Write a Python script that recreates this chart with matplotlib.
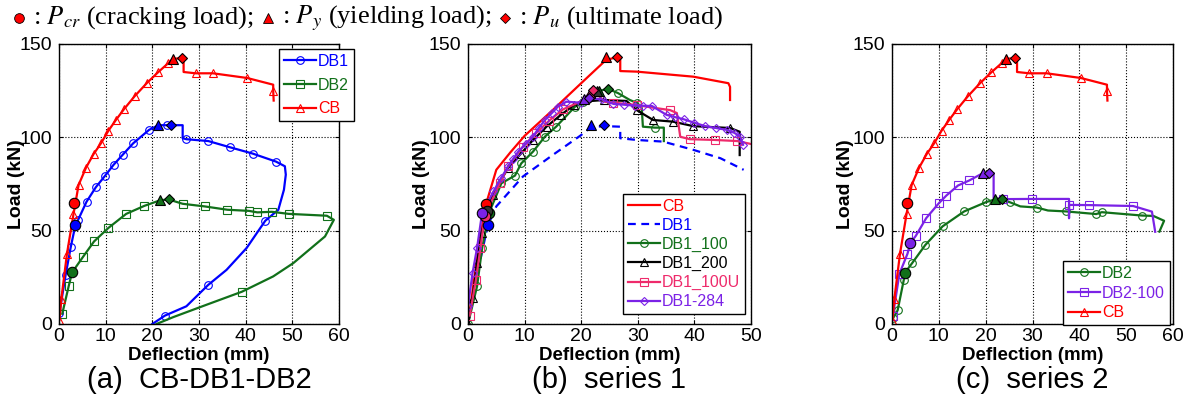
import matplotlib
matplotlib.use("Agg")
import matplotlib.pyplot as plt
from matplotlib.lines import Line2D

plt.rcParams['font.family'] = ['Liberation Sans', 'DejaVu Sans']
plt.rcParams['mathtext.fontset'] = 'stix'

RED = '#ff0000'
BLUE = '#0000ff'
GREEN = '#11701a'
BLACK = '#000000'
PINK = '#ee2a6b'
PURPLE = '#7b22e6'

# ---- panel (a) CB-DB1-DB2 ----
cb_x = [0.1, 0.5, 1.7, 3.1, 4.2, 5.8, 7.4, 9.0, 10.6, 12.2, 13.9, 16.2, 18.8, 21.2, 23.4,
        24.4, 26.3, 26.7, 26.7, 29.3, 33.0, 40.3, 45.9, 45.9, 46.0]
cb_y = [2.3, 13.4, 37.5, 58.8, 74.5, 83.8, 91.0, 96.8, 103.6, 109.3, 115.0, 122.0, 129.0, 134.8, 139.7,
        142.0, 142.5, 142.5, 135.0, 134.3, 134.3, 131.8, 128.2, 125.0, 119.7]
cb_mk = [0, 1, 2, 3, 4, 5, 6, 7, 8, 9, 10, 11, 12, 13, 14, 19, 20, 21, 23]
cb_pts = {'cr': (3.2, 65.0), 'y': (24.4, 142.0), 'u': (26.3, 142.5)}

db1_x = [0.1, 1.4, 2.5, 3.5, 4.1, 5.9, 7.9, 9.9, 11.7, 13.7, 15.9, 19.3, 21.3, 23.2, 26.5, 26.5,
         27.3, 32.0, 36.6, 41.5, 46.5, 48.4, 48.6, 48.2, 47.0, 44.2, 40.2, 35.9, 32.0, 27.3, 22.7, 20.0]
db1_y = [6.0, 26.0, 41.0, 52.8, 55.8, 65.5, 73.3, 79.5, 85.3, 90.8, 96.8, 104.0, 106.5, 106.5, 106.5, 99.5,
         99.0, 98.0, 94.7, 91.3, 87.0, 84.5, 80.0, 71.9, 61.2, 55.3, 40.7, 29.0, 21.0, 9.5, 4.5, 0.0]
db1_mk = [0, 1, 2, 4, 5, 6, 7, 8, 9, 10, 11, 13, 16, 17, 18, 19, 20, 25, 28, 30]
db1_pts = {'cr': (3.5, 52.8), 'y': (21.3, 106.5), 'u': (24.0, 106.5)}

db2_x = [0.7, 2.1, 2.8, 5.1, 7.5, 10.6, 14.4, 18.3, 21.7, 23.5, 26.5, 31.2, 36.1, 40.7, 42.5, 45.6,
         49.2, 57.4, 58.9, 57.0, 50.2, 45.9, 39.2, 31.6, 24.5, 20.9]
db2_y = [5.5, 20.5, 27.6, 35.8, 44.2, 51.5, 59.0, 63.3, 66.3, 66.7, 64.4, 63.0, 61.2, 60.6, 59.8, 60.1,
         59.0, 58.0, 55.8, 46.9, 32.6, 25.5, 17.3, 10.3, 3.7, 0.0]
db2_mk = [0, 1, 3, 4, 5, 6, 7, 10, 11, 12, 13, 14, 15, 16, 17, 22]
db2_pts = {'cr': (2.8, 27.6), 'y': (21.7, 66.3), 'u': (23.5, 66.7)}

# ---- panel (b) series 1 ----
b_cb_x = [0, 1.0, 2.0, 3.2, 5.0, 7.5, 10.0, 15.0, 20.0, 24.4, 26.3, 26.9, 26.9, 29.8, 39.8, 46.0, 46.3, 46.3]
b_cb_y = [0, 22.0, 44.0, 64.4, 82.6, 92.0, 100.8, 114.7, 129.0, 141.5, 142.9, 142.9, 135.5, 135.2, 132.5,
          129.0, 127.0, 120.0]
b_cb_pts = {'cr': (3.2, 64.4), 'y': (24.4, 143.0), 'u': (26.3, 142.9)}

b_db1_x = [0, 1.5, 3.5, 5.0, 9.7, 15.0, 19.8, 21.8, 24.2, 26.9, 26.9, 29.8, 34.5, 39.8, 44.6, 48.7]
b_db1_y = [0, 25.0, 52.8, 63.0, 79.0, 90.6, 100.8, 105.5, 106.0, 105.7, 99.5, 98.6, 97.7, 93.3, 88.8, 82.6]
b_db1_pts = {'cr': (3.5, 52.8), 'y': (21.8, 106.5), 'u': (24.0, 106.6)}

b_100_x = [0, 1.6, 2.5, 3.7, 5.9, 8.3, 9.4, 11.5, 13.6, 15.6, 18.9, 20.4, 23.1, 24.7, 26.5, 28.6, 29.9,
           30.7, 30.9, 33.0, 34.6, 34.6]
b_100_y = [0, 20.2, 40.7, 59.4, 75.4, 79.5, 86.0, 92.4, 100.4, 105.8, 116.4, 119.0, 124.8, 126.0, 123.7,
           120.0, 118.4, 115.7, 105.7, 105.2, 105.2, 98.0]
b_100_mk = [0, 1, 2, 4, 5, 6, 7, 8, 9, 10, 11, 14, 16, 19]
b_100_pts = {'cr': (3.7, 59.4), 'y': (23.1, 125.0), 'u': (24.7, 126.0)}

b_200_x = [0, 0.8, 1.6, 2.4, 3.4, 4.4, 7.1, 9.3, 11.5, 13.9, 16.4, 18.8, 19.8, 24.0, 28.0, 29.8, 32.7,
           36.2, 39.8, 46.3, 48.0, 48.0]
b_200_y = [0, 13.9, 32.6, 49.0, 60.3, 69.2, 83.8, 91.1, 98.6, 105.8, 112.0, 117.4, 119.0, 120.0, 119.5,
           114.6, 109.3, 108.4, 106.0, 105.0, 103.0, 90.5]
b_200_mk = [0, 1, 2, 3, 5, 6, 7, 8, 9, 10, 11, 13, 15, 16, 17, 18, 19]
b_200_pts = {'cr': (3.4, 60.3), 'y': (22.8, 124.8), 'u': (21.6, 121.5)}

b_100u_x = [0.3, 1.4, 2.2, 2.95, 5.6, 7.1, 9.7, 12.1, 14.3, 16.8, 20.5, 21.5, 22.0, 24.2, 25.7, 29.8,
            32.2, 35.7, 36.9, 37.5, 39.2, 43.6, 47.6, 49.9]
b_100u_y = [4.5, 23.7, 40.7, 57.6, 75.4, 84.4, 95.0, 102.5, 108.8, 115.0, 120.0, 124.0, 125.4, 119.0,
            118.6, 117.3, 116.1, 114.6, 113.0, 100.3, 99.0, 98.6, 98.0, 96.5]
b_100u_mk = [0, 1, 2, 4, 5, 6, 7, 8, 9, 14, 15, 17, 20, 21, 22]
b_100u_pts = {'cr': (2.95, 57.6), 'y': (21.5, 124.0), 'u': (22.1, 125.4)}

b_284_x = [0, 0.8, 1.6, 2.5, 4.5, 5.8, 7.1, 8.0, 8.9, 10.2, 11.5, 12.5, 13.6, 14.8, 15.9, 17.4, 20.0,
           21.1, 23.6, 25.7, 27.5, 29.5, 31.0, 32.5, 35.1, 36.6, 38.1, 40.0, 41.9, 43.8, 45.7, 47.0,
           48.1, 48.6]
b_284_y = [9.5, 27.3, 40.7, 59.7, 71.0, 78.0, 84.4, 88.5, 92.4, 96.5, 100.4, 105.0, 109.3, 113.0, 116.5,
           119.1, 118.5, 121.0, 120.4, 117.9, 117.5, 117.0, 116.9, 116.8, 112.0, 110.8, 109.7, 107.8,
           106.0, 105.0, 104.0, 102.5, 100.4, 96.0]
b_284_pts = {'cr': (2.5, 59.7), 'y': (20.5, 120.5), 'u': (21.3, 121.0)}

# ---- panel (c) series 2 ----
c_db2_x = [0.2, 1.2, 2.5, 2.7, 4.3, 7.1, 10.8, 15.4, 20.1, 21.9, 23.5, 25.3, 27.4, 30.9, 33.3, 37.2,
           43.6, 44.8, 53.4, 55.8, 58.1, 57.1]
c_db2_y = [3.0, 7.3, 23.4, 27.3, 32.6, 42.3, 52.3, 60.3, 65.3, 66.7, 66.7, 65.1, 63.0, 62.4, 60.8, 60.3,
           58.9, 59.9, 58.1, 57.9, 55.3, 49.5]
c_db2_mk = [0, 1, 2, 4, 5, 6, 7, 8, 11, 13, 15, 16, 17, 18]
c_db2_pts = {'cr': (2.7, 27.3), 'y': (21.9, 66.7), 'u': (23.5, 66.7)}

c_100_x = [0.2, 1.57, 3.3, 3.9, 5.1, 7.3, 10.0, 11.6, 14.1, 16.5, 19.4, 20.8, 21.7, 21.7, 23.7, 29.9,
           37.8, 37.8, 37.8, 42.1, 51.5, 55.5, 56.2]
c_100_y = [4.5, 26.8, 37.6, 43.2, 47.3, 56.7, 64.7, 68.8, 74.2, 76.9, 80.8, 80.8, 80.8, 67.4, 66.9, 67.0,
           67.0, 56.7, 63.8, 63.7, 63.2, 60.2, 49.4]
c_100_mk = [0, 1, 2, 4, 5, 6, 7, 8, 9, 14, 15, 18, 19, 20]
c_100_pts = {'cr': (3.9, 43.2), 'y': (19.4, 80.8), 'u': (20.8, 80.8)}

header_parts = [r": $P_{cr}$ (cracking load);", r": $P_y$ (yielding load);", r": $P_u$ (ultimate load)"]
captions = ["(a)  CB-DB1-DB2", "(b)  series 1", "(c)  series 2"]

W, H = 1186, 398


def series(ax, x, y, color, marker, label, mk=None, ls='-', ms=5.5):
    ax.plot(x, y, color=color, lw=1.6, ls=ls, marker=marker, markevery=mk, ms=ms,
            mfc='none', mec=color, mew=0.8, label=label)


def key_points(ax, pts, color):
    ax.plot(*pts['cr'], 'o', ms=7.5, mfc=color, mec='k', mew=0.8, zorder=5)
    ax.plot(*pts['y'], '^', ms=7.5, mfc=color, mec='k', mew=0.8, zorder=5)
    ax.plot(*pts['u'], 'D', ms=5.5, mfc=color, mec='k', mew=0.8, zorder=5)


def style(ax, xmax, xstep, ylab_px):
    ax.set_xlim(0, xmax)
    ax.set_ylim(0, 150)
    ax.set_xticks(range(0, xmax + 1, xstep))
    ax.set_yticks([0, 50, 100, 150])
    ax.grid(True, ls=':', color='k', lw=0.8)
    ax.tick_params(direction='in', top=True, right=True, labelsize=14, length=3)
    ax.tick_params(axis='x', pad=3)
    ax.tick_params(axis='y', pad=5)
    for s in ax.spines.values():
        s.set_linewidth(1.0)
    ax.set_xlabel("Deflection (mm)", fontsize=13.5, fontweight='bold', va='center')
    ax.set_ylabel("Load (kN)", fontsize=14, fontweight='bold', va='center')
    pos = ax.get_position()
    ax.xaxis.set_label_coords(0.5, -32 / 280)
    ax.yaxis.set_label_coords((ylab_px / W - pos.x0) / pos.width, 0.5)


def legend(ax, anchor, spacing):
    leg = ax.legend(loc='upper left', bbox_to_anchor=anchor, fontsize=11.5, frameon=True, fancybox=False,
                    edgecolor='k', framealpha=1, handlelength=2.0, handletextpad=0.15,
                    borderpad=0.3, labelspacing=spacing, borderaxespad=0)
    leg.get_frame().set_linewidth(1.0)
    for t, h in zip(leg.get_texts(), leg.legend_handles):
        t.set_color(h.get_color())


fig = plt.figure(figsize=(W / 100, H / 100), dpi=100)
ax1 = fig.add_axes([59 / W, 74 / H, 280 / W, 280 / H])
ax2 = fig.add_axes([468 / W, 74 / H, 283 / W, 280 / H])
ax3 = fig.add_axes([892 / W, 74 / H, 281 / W, 280 / H])

# (a)
series(ax1, db1_x, db1_y, BLUE, 'o', 'DB1', db1_mk)
series(ax1, db2_x, db2_y, GREEN, 's', 'DB2', db2_mk)
series(ax1, cb_x, cb_y, RED, '^', 'CB', cb_mk)
key_points(ax1, db1_pts, BLUE)
key_points(ax1, db2_pts, GREEN)
key_points(ax1, cb_pts, RED)
style(ax1, 60, 10, 17)
legend(ax1, (0.786, 0.982), 0.55)

# (b)
series(ax2, b_cb_x, b_cb_y, RED, None, 'CB')
series(ax2, b_db1_x, b_db1_y, BLUE, None, 'DB1', ls=(0, (3.5, 2.5)))
series(ax2, b_100_x, b_100_y, GREEN, 'o', 'DB1_100', b_100_mk)
series(ax2, b_200_x, b_200_y, BLACK, '^', 'DB1_200', b_200_mk)
series(ax2, b_100u_x, b_100u_y, PINK, 's', 'DB1_100U', b_100u_mk)
series(ax2, b_284_x, b_284_y, PURPLE, 'D', 'DB1-284', None, ms=4.5)
key_points(ax2, b_cb_pts, RED)
key_points(ax2, b_db1_pts, BLUE)
key_points(ax2, b_100_pts, GREEN)
key_points(ax2, b_200_pts, '#333333')
key_points(ax2, b_100u_pts, PINK)
key_points(ax2, b_284_pts, PURPLE)
style(ax2, 50, 10, 422)
legend(ax2, (0.548, 0.464), 0.25)

# (c)
series(ax3, c_db2_x, c_db2_y, GREEN, 'o', 'DB2', c_db2_mk)
series(ax3, c_100_x, c_100_y, PURPLE, 's', 'DB2-100', c_100_mk)
series(ax3, cb_x, cb_y, RED, '^', 'CB', cb_mk)
key_points(ax3, c_db2_pts, GREEN)
key_points(ax3, c_100_pts, PURPLE)
key_points(ax3, cb_pts, RED)
style(ax3, 60, 10, 845)
legend(ax3, (0.608, 0.225), 0.3)

# captions
for ax, cap in zip([ax1, ax2, ax3], captions):
    pos = ax.get_position()
    fig.text(pos.x0 + pos.width / 2, 1 - 380 / H, cap, ha='center', va='center', fontsize=21)

# header line with key markers, laid out left to right
renderer = fig.canvas.get_renderer()
hy = 1 - 18 / H
cur = 19
for mk, ms, part in [('o', 7, header_parts[0]), ('^', 6.5, header_parts[1]), ('D', 5, header_parts[2])]:
    fig.add_artist(Line2D([cur / W], [hy], marker=mk, ms=ms, mfc=RED, mec='k', mew=0.6,
                          transform=fig.transFigure))
    t = fig.text((cur + 14) / W, hy, part, ha='left', va='center', fontsize=19,
                 family=['Liberation Serif', 'DejaVu Serif'])
    cur = t.get_window_extent(renderer).x1 + 14

fig.savefig("out.png", dpi=100)
